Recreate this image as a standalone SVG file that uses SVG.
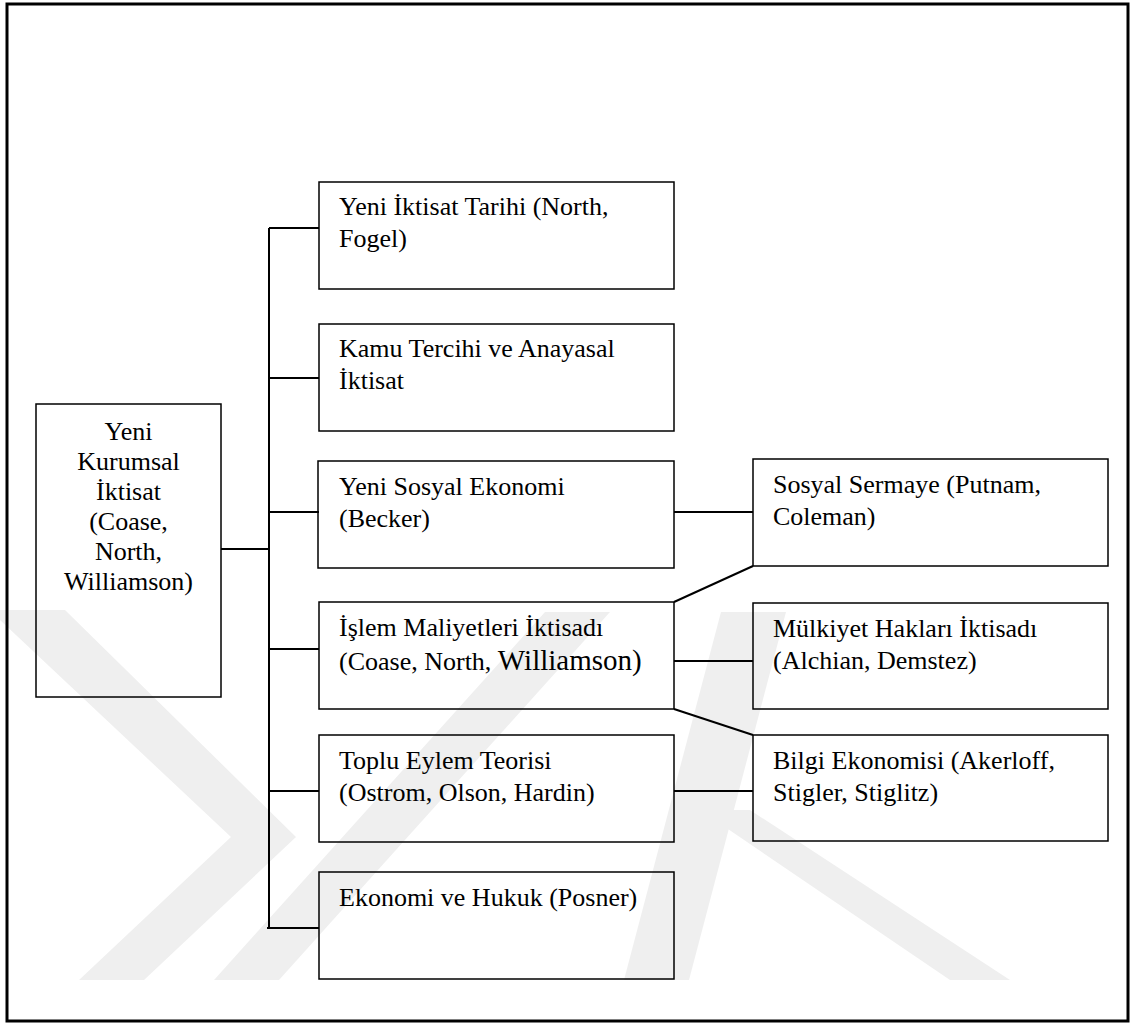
<svg xmlns="http://www.w3.org/2000/svg" width="1131" height="1025" viewBox="0 0 1131 1025">
<style>
.box{fill:none;stroke:#000;stroke-width:1.5}
.ln{stroke:#000;stroke-width:2;fill:none}
.t{font-family:"Liberation Serif","Times New Roman",serif;font-size:26px;fill:#000}
.wm{fill:#efefef}
</style>
<rect x="0" y="0" width="1131" height="1025" fill="#fff"/>
<g id="watermark">
<polygon class="wm" points="0,610 65,610 296,837 144,980 79,980 231,837 0,620"/>
<polygon class="wm" points="214,980 279,980 610,612 545,612"/>
<polygon class="wm" points="624,980 689,980 786,612 721,612"/>
<polygon class="wm" points="700,810 750,810 1010,980 950,980"/>
</g>
<rect id="frame" x="7" y="4" width="1121" height="1017" fill="none" stroke="#000" stroke-width="3"/>
<g id="connectors">
<line class="ln" x1="269" y1="228" x2="269" y2="928"/>
<line class="ln" x1="269" y1="228" x2="319" y2="228"/>
<line class="ln" x1="269" y1="378" x2="319" y2="378"/>
<line class="ln" x1="269" y1="512" x2="319" y2="512"/>
<line class="ln" x1="269" y1="649" x2="319" y2="649"/>
<line class="ln" x1="269" y1="791" x2="319" y2="791"/>
<line class="ln" x1="267" y1="928" x2="319" y2="928"/>
<line class="ln" x1="221" y1="549" x2="269" y2="549"/>
<line class="ln" x1="674" y1="512" x2="753" y2="512"/>
<line class="ln" x1="674" y1="602" x2="753" y2="566"/>
<line class="ln" x1="674" y1="661" x2="753" y2="661"/>
<line class="ln" x1="674" y1="709" x2="753" y2="735"/>
<line class="ln" x1="674" y1="791" x2="753" y2="791"/>
</g>
<g id="root">
<rect class="box" x="36" y="404" width="185" height="293"/>
<text class="t" text-anchor="middle" x="128.5" y="440">Yeni</text>
<text class="t" text-anchor="middle" x="128.5" y="470">Kurumsal</text>
<text class="t" text-anchor="middle" x="128.5" y="500">İktisat</text>
<text class="t" text-anchor="middle" x="128.5" y="530">(Coase,</text>
<text class="t" text-anchor="middle" x="128.5" y="560">North,</text>
<text class="t" text-anchor="middle" x="128.5" y="590">Williamson)</text>
</g>
<g id="n1">
<rect class="box" x="319" y="182" width="355" height="107"/>
<text class="t" x="339" y="215">Yeni İktisat Tarihi (North,</text>
<text class="t" x="339" y="247">Fogel)</text>
</g>
<g id="n2">
<rect class="box" x="319" y="324" width="355" height="107"/>
<text class="t" x="339" y="357">Kamu Tercihi ve Anayasal</text>
<text class="t" x="339" y="389">İktisat</text>
</g>
<g id="n3">
<rect class="box" x="318" y="461" width="356" height="107"/>
<text class="t" x="339" y="495">Yeni Sosyal Ekonomi</text>
<text class="t" x="339" y="527">(Becker)</text>
</g>
<g id="n4">
<rect class="box" x="319" y="602" width="355" height="107"/>
<text class="t" x="339" y="636">İşlem Maliyetleri İktisadı</text>
<text class="t" x="339" y="670">(Coase, North, <tspan font-size="29">Williamson)</tspan></text>
</g>
<g id="n5">
<rect class="box" x="319" y="735" width="355" height="107"/>
<text class="t" x="339" y="769">Toplu Eylem Teorisi</text>
<text class="t" x="339" y="801">(Ostrom, Olson, Hardin)</text>
</g>
<g id="n6">
<rect class="box" x="319" y="872" width="355" height="107"/>
<text class="t" x="339" y="906">Ekonomi ve Hukuk (Posner)</text>
</g>
<g id="n7">
<rect class="box" x="753" y="459" width="355" height="107"/>
<text class="t" x="773" y="493">Sosyal Sermaye (Putnam,</text>
<text class="t" x="773" y="525">Coleman)</text>
</g>
<g id="n8">
<rect class="box" x="753" y="603" width="355" height="106"/>
<text class="t" x="773" y="637">Mülkiyet Hakları İktisadı</text>
<text class="t" x="773" y="669">(Alchian, Demstez)</text>
</g>
<g id="n9">
<rect class="box" x="753" y="735" width="355" height="106"/>
<text class="t" x="773" y="769">Bilgi Ekonomisi (Akerloff,</text>
<text class="t" x="773" y="801">Stigler, Stiglitz)</text>
</g>
</svg>
